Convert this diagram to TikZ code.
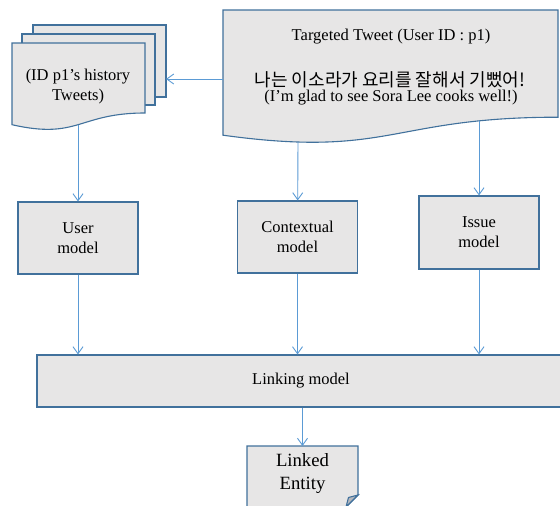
\documentclass[tikz,border=0pt]{standalone}
\usepackage{fontspec}
\setmainfont{Liberation Serif}
\newfontfamily\krfont{Noto Sans CJK KR}
\usepackage{tikz}
\usetikzlibrary{arrows.meta}
\definecolor{edgeblue}{HTML}{41719C}
\definecolor{boxgray}{HTML}{E7E6E6}
\definecolor{linkblue}{HTML}{5B9BD5}
\definecolor{foldgray}{HTML}{B4B7BD}

\begin{document}
\begin{tikzpicture}[x=1pt,y=-1pt,
  page/.style={draw=edgeblue,fill=boxgray,line width=1.1pt},
  txt/.style={align=center,font=\fontsize{16.5}{20}\selectfont},
  model/.style={page,txt,minimum width=120pt,minimum height=72pt,inner sep=0pt},
  link/.style={draw=linkblue,line width=0.9pt,-{Straight Barb[length=7pt,width=10pt]}}]
\fill[white] (0,0) rectangle (560,506);
\useasboundingbox (0,0) rectangle (560,506);

% history tweets
\filldraw[page] (33,25) rectangle (166,97);
\filldraw[page] (22,34) rectangle (155,105);
\filldraw[page] (12,43) -- (145,43) -- (145,113) .. controls (78.5,113) and (78.5,139.9) .. (12,124.7) -- cycle;
\draw (78,87) node (ht) [txt] {(ID p1’s history\\Tweets)};
\coordinate (htE) at (166,79);
\coordinate (htS) at (78,124.5);

% targeted tweet
\filldraw[page] (223,10) -- (558,10) -- (558,117.2) .. controls (390.5,117.2) and (390.5,158.3) .. (223,135.2) -- cycle;
\draw (391,37) node (tt) [txt] {Targeted Tweet (User ID : p1)};
\draw (390,80) node (kr) [txt,font=\fontsize{18}{20}\selectfont] {\krfont 나는 이소라가 요리를 잘해서 기뻤어!};
\draw (391,98) node (en) [txt] {(I’m glad to see Sora Lee cooks well!)};
\coordinate (ttW) at (223,79);
\coordinate (ttA) at (298,142);
\coordinate (ttB) at (479,121);

% models
\draw (78,238) node (um) [model] {User\\model};
\draw (297.5,237) node (cm) [model] {Contextual\\model};
\draw (479,232.5) node (im) [model,minimum height=73pt] {Issue\\model};
\draw (301,381) node (lm) [model,minimum width=528pt,minimum height=52pt] {Linking model};

% linked entity
\filldraw[page] (247,446) -- (358,446) -- (358,495) -- (346,507) -- (247,507) -- cycle;
\filldraw[page,fill=foldgray] (358,495) -- (348.5,497.5) -- (346,507) -- cycle;
\draw (302.5,473.5) node (le) [txt,font=\fontsize{18.7}{23}\selectfont] {Linked\\Entity};
\coordinate (leN) at (302.5,446);

\draw[link] (ttW) -- (htE);
\draw[link] (htS) -- (um);
\draw[link] (ttA) -- (cm);
\draw[link] (ttB) -- (im);
\draw[link] (um) -- (um |- lm.north);
\draw[link] (cm) -- (cm |- lm.north);
\draw[link] (im) -- (im |- lm.north);
\draw[link] (lm.south -| leN) -- (leN);
\end{tikzpicture}
\end{document}
